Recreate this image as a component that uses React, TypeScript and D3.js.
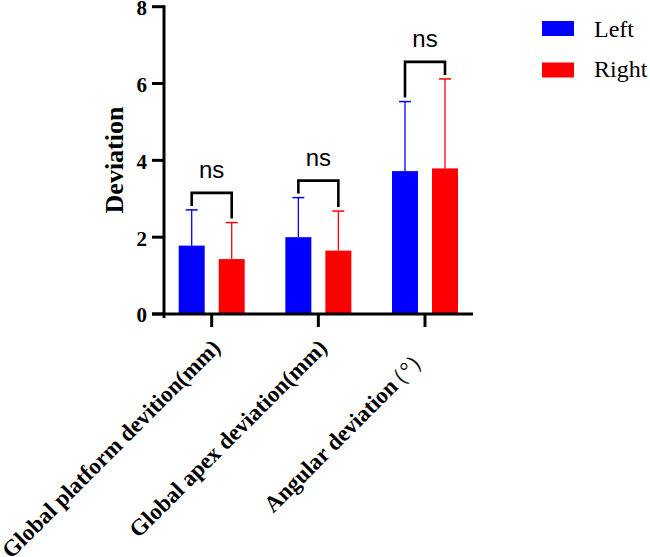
import React from "react";
import * as d3 from "d3";

const categories = ["Global platform devition(mm)", "Global apex deviation(mm)", "Angular deviation（°）"];
const seriesNames = ["Left", "Right"];
const leftMeans = [1.78, 2.0, 3.72];
const leftErrTop = [2.71, 3.03, 5.53];
const rightMeans = [1.43, 1.65, 3.79];
const rightErrTop = [2.38, 2.68, 6.12];
const sigLabels = ["ns", "ns", "ns"];
const yTicks = [0, 2, 4, 6, 8];
const colors = ["#0000FF", "#FF0000"];

function renderLabel(label: string) {
  const k = label.indexOf("（");
  if (k < 0) return label;
  const head = label.slice(0, k);
  const tail = label.slice(k + 1, label.length - 1);
  return (
    <>
      {head}
      <tspan dx={-8} fontWeight="normal">（</tspan>
      <tspan dx={-1} fontWeight="normal">{tail}</tspan>
      <tspan dx={-1} fontWeight="normal">）</tspan>
    </>
  );
}

export default function App() {
  const W = 650, H = 557;
  const y = d3.scaleLinear().domain([0, 8]).range([314, 6.7]);
  const x = d3.scalePoint<string>().domain(categories).range([211.7, 425]);
  const axisX = 164;
  const barW = 26;
  const offset = 20;
  const serif = "'Liberation Serif', 'Times New Roman', serif";
  const sans = "'Liberation Sans', Arial, sans-serif";
  const series = [
    { means: leftMeans, err: leftErrTop, dx: -offset, color: colors[0] },
    { means: rightMeans, err: rightErrTop, dx: offset, color: colors[1] },
  ];
  return (
    <svg width={W} height={H} style={{ position: "absolute", left: 0, top: 0 }}>
      <rect width={W} height={H} fill="#fff" />
      {/* bars and error bars */}
      {series.map((s, si) =>
        categories.map((c, i) => {
          const cx = (x(c) as number) + s.dx;
          return (
            <g key={`${si}-${i}`}>
              <rect x={cx - barW / 2} y={y(s.means[i])} width={barW} height={y(0) - y(s.means[i])} fill={s.color} />
              <line x1={cx} x2={cx} y1={y(s.means[i])} y2={y(s.err[i])} stroke={s.color} strokeWidth={1.3} />
              <line x1={cx - 6} x2={cx + 6} y1={y(s.err[i])} y2={y(s.err[i])} stroke={s.color} strokeWidth={1.5} />
            </g>
          );
        })
      )}
      {/* significance brackets */}
      {categories.map((c, i) => {
        const lx = (x(c) as number) - offset;
        const rx = (x(c) as number) + offset;
        const top = Math.min(y(leftErrTop[i]), y(rightErrTop[i])) - 17;
        return (
          <g key={`b${i}`}>
            <path
              d={`M${lx},${y(leftErrTop[i]) - 4}V${top}H${rx}V${y(rightErrTop[i]) - 4}`}
              fill="none"
              stroke="#000"
              strokeWidth={2.6}
            />
            <text x={(lx + rx) / 2} y={top - 15} textAnchor="middle" fontFamily={sans} fontSize={24}>
              {sigLabels[i]}
            </text>
          </g>
        );
      })}
      {/* y axis */}
      <line x1={axisX} x2={axisX} y1={y(8) - 1.5} y2={y(0) + 4} stroke="#000" strokeWidth={3} />
      {yTicks.map((t) => (
        <g key={`yt${t}`}>
          <line x1={152} x2={axisX} y1={y(t)} y2={y(t)} stroke="#000" strokeWidth={3} />
          <text x={147} y={y(t)} dy="0.4em" textAnchor="end" fontFamily={serif} fontWeight="bold" fontSize={21}>
            {t}
          </text>
        </g>
      ))}
      <text
        transform={`translate(123,160) rotate(-90)`}
        textAnchor="middle"
        fontFamily={serif}
        fontWeight="bold"
        fontSize={26}
      >
        Deviation
      </text>
      {/* x axis */}
      <line x1={152} x2={473} y1={y(0)} y2={y(0)} stroke="#000" strokeWidth={3} />
      {categories.map((c) => {
        const wide = c.includes("（");
        const ax = (x(c) as number) + (wide ? 6 : 10);
        const ay = wide ? 356 : 349;
        return (
          <g key={`xt${c}`}>
            <line x1={x(c) as number} x2={x(c) as number} y1={y(0)} y2={327} stroke="#000" strokeWidth={3} />
            <text
              transform={`translate(${ax},${ay}) rotate(-45)`}
              textAnchor="end"
              fontFamily={serif}
              fontWeight="bold"
              fontSize={23}
            >
              {renderLabel(c)}
            </text>
          </g>
        );
      })}
      {/* legend */}
      {seriesNames.map((n, i) => (
        <g key={`lg${n}`}>
          <rect x={542} y={21 + i * 41.5} width={32} height={15} fill={colors[i]} />
          <text x={594} y={36.7 + i * 40} fontFamily={serif} fontSize={24}>
            {n}
          </text>
        </g>
      ))}
    </svg>
  );
}
